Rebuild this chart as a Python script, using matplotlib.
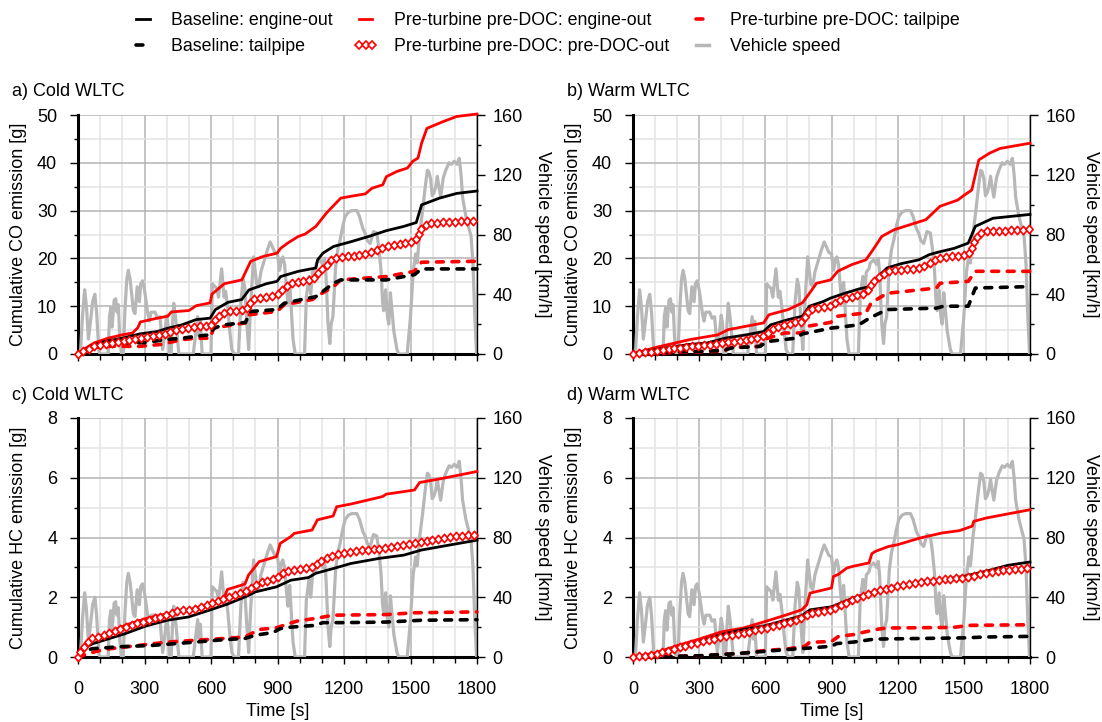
"""Cumulative CO / HC emissions over the WLTC with vehicle speed overlay (4 panels)."""
import matplotlib
matplotlib.use("Agg")
import matplotlib.pyplot as plt
import numpy as np
from matplotlib.lines import Line2D
from matplotlib.path import Path
from matplotlib.patheffects import AbstractPathEffect
from matplotlib.ticker import MultipleLocator
from matplotlib.transforms import Affine2D, IdentityTransform

plt.rcParams["font.family"] = ["Liberation Sans", "DejaVu Sans"]
plt.rcParams["font.size"] = 13

# --- vehicle speed (WLTC) --------------------------------------------------
SPEED_T = [0, 11, 20, 30, 38, 47, 55, 66, 76, 84, 94, 100, 136, 142, 148, 154, 163, 170,
           176, 182, 188, 196, 204, 212, 220, 227, 235, 250, 257, 267, 272, 277, 283, 291,
           300, 315, 322, 330, 348, 358, 370, 382, 392, 400, 406, 412, 420, 426, 432, 440,
           455, 520, 528, 534, 540, 546, 552, 560, 600, 606, 618, 626, 634, 648, 659, 666,
           676, 685, 694, 705, 724, 735, 745, 752, 762, 770, 778, 792, 806, 815, 825, 845,
           855, 867, 876, 888, 900, 909, 918, 924, 932, 940, 947, 955, 962, 970, 980, 1022,
           1030, 1042, 1050, 1058, 1070, 1076, 1091, 1105, 1112, 1118, 1128, 1136, 1142,
           1150, 1162, 1172, 1182, 1195, 1205, 1220, 1235, 1258, 1270, 1285, 1295, 1305,
           1318, 1333, 1348, 1358, 1367, 1374, 1379, 1388, 1396, 1402, 1409, 1416, 1425,
           1439, 1447, 1485, 1500, 1512, 1523, 1530, 1541, 1553, 1565, 1576, 1583, 1591,
           1598, 1606, 1614, 1621, 1628, 1636, 1648, 1659, 1674, 1685, 1697, 1710, 1720,
           1728, 1735, 1750, 1762, 1773, 1782, 1790, 1798, 1800]
SPEED_V = [0, 0, 25, 43, 32, 10, 20, 35, 40, 28, 2, 0, 0, 25, 31, 18, 36, 37,
           28, 33, 12, 0, 0, 30, 50, 56, 50, 29, 27, 45, 40, 35, 47, 49,
           43, 27, 22, 28, 28, 24, 25, 3, 15, 26, 20, 0, 0, 20, 34, 25,
           0, 0, 10, 18, 25, 12, 22, 0, 0, 47, 45, 44, 38, 57, 38, 42,
           30, 15, 3, 0, 0, 35, 50, 45, 20, 3, 30, 65, 47, 45, 55, 65,
           70, 75, 72, 68, 67, 56, 63, 65, 60, 45, 34, 48, 30, 10, 0, 0,
           38, 52, 40, 55, 57, 61, 63, 60, 64, 55, 20, 7, 20,
           25, 58, 70, 76, 86, 92, 95, 96, 96, 92, 84, 81, 76,
           74, 82, 81, 70, 56, 35, 29, 43, 25, 20, 41, 30, 15,
           3, 0, 0, 25, 55, 67, 61, 80, 94, 110, 123, 122, 117,
           106, 108, 112, 119, 112, 105, 118, 123, 128, 127, 129, 127, 131,
           120, 105, 92, 85, 79, 60, 25, 0, 0]

# --- a) Cold WLTC, cumulative CO [g] ---------------------------------------
A_BL_EO_T = [0, 56, 119, 199, 278, 358, 405, 469, 533, 596, 620, 676, 739, 771, 850, 898,
             914, 994, 1073, 1081, 1105, 1153, 1232, 1312, 1391, 1470, 1526, 1550, 1630,
             1709, 1800]
A_BL_EO = [0, 1.6, 2.6, 3.3, 4.2, 4.7, 5.4, 6.1, 7.2, 7.5, 9.3, 10.8, 11.4, 13.4, 14.7, 15.2,
           16.2, 17.3, 18.0, 19.7, 21.1, 22.5, 23.5, 24.6, 25.8, 26.7, 27.5, 31.2, 32.6,
           33.6, 34.1]
A_BL_TP_T = [0, 56, 199, 310, 389, 469, 549, 596, 612, 660, 755, 779, 898, 930, 1010, 1073,
             1153, 1185, 1391, 1470, 1518, 1550, 1800]
A_BL_TP = [0, 1.3, 2.3, 2.4, 3.0, 3.3, 3.8, 4.0, 5.4, 6.1, 6.6, 8.9, 9.3, 10.6, 11.4, 12.0,
           14.8, 15.5, 15.5, 16.2, 16.6, 17.8, 17.8]
A_PT_EO_T = [0, 24, 72, 135, 199, 246, 270, 281, 358, 405, 421, 501, 533, 596, 604, 660,
             739, 779, 835, 898, 914, 946, 994, 1025, 1073, 1121, 1185, 1232, 1296, 1327,
             1375, 1391, 1439, 1486, 1510, 1534, 1550, 1574, 1646, 1709, 1800]
A_PT_EO = [0, 0.9, 2.3, 3.3, 4.0, 4.4, 5.5, 6.7, 7.5, 7.9, 8.8, 9.1, 10.1, 10.7, 12.5, 14.7,
           15.5, 19.4, 20.4, 21.1, 22.1, 23.2, 24.6, 25.1, 26.7, 29.5, 32.6, 33.0, 33.5, 34.7,
           35.4, 37.1, 38.2, 38.9, 40.3, 41.0, 44.1, 47.2, 48.6, 49.7, 50.2]
A_PT_PRE_T = [0, 72, 119, 199, 278, 358, 437, 533, 596, 628, 676, 755, 787, 898, 930, 962,
              1057, 1089, 1153, 1232, 1312, 1359, 1407, 1518, 1550, 1582, 1800]
A_PT_PRE = [0, 1.6, 2.0, 2.6, 3.3, 3.8, 4.9, 5.8, 5.9, 7.7, 8.9, 9.3, 11.4, 12.4, 13.8, 14.8,
            15.5, 17.3, 20.1, 20.5, 21.1, 21.9, 22.8, 23.5, 26.3, 27.4, 27.9]
A_PT_TP_T = [0, 56, 119, 278, 374, 469, 533, 596, 612, 660, 755, 771, 898, 930, 1057, 1089,
             1153, 1185, 1391, 1518, 1550, 1800]
A_PT_TP = [0, 1.3, 1.6, 1.6, 2.0, 3.0, 3.3, 3.3, 5.4, 5.8, 6.5, 8.2, 8.9, 10.3, 11.4, 12.4,
           14.1, 15.5, 16.2, 17.3, 19.2, 19.4]

# --- b) Warm WLTC, cumulative CO [g] ---------------------------------------
B_BL_EO_T = [0, 96, 256, 336, 416, 512, 592, 624, 704, 768, 800, 864, 896, 960, 1024, 1072,
             1104, 1152, 1216, 1296, 1344, 1392, 1456, 1520, 1552, 1632, 1800]
B_BL_EO = [0, 0.9, 2.0, 2.3, 3.3, 4.0, 4.7, 6.1, 7.2, 7.9, 10.0, 11.0, 11.7, 12.7, 13.6, 14.1,
           15.9, 18.0, 18.9, 19.7, 20.8, 21.4, 22.1, 23.2, 26.7, 28.4, 29.2]
B_BL_TP_T = [0, 96, 336, 416, 448, 576, 608, 736, 768, 896, 1024, 1072, 1152, 1376, 1408,
             1520, 1552, 1800]
B_BL_TP = [0, 0.35, 0.6, 0.8, 1.3, 1.6, 2.6, 3.3, 4.2, 5.4, 6.1, 7.5, 9.3, 9.6, 10.0, 10.0,
           13.8, 14.1]
B_PT_EO_T = [0, 96, 256, 384, 432, 512, 592, 616, 704, 768, 800, 832, 896, 928, 992, 1056,
             1088, 1128, 1184, 1280, 1328, 1360, 1392, 1472, 1504, 1536, 1568, 1616, 1664,
             1800]
B_PT_EO = [0, 1.3, 3.0, 4.0, 5.1, 5.8, 6.5, 8.2, 9.3, 10.7, 12.7, 14.8, 15.5, 17.3, 18.7,
           19.7, 21.8, 24.6, 26.0, 27.4, 28.1, 29.5, 30.9, 32.2, 33.3, 34.3, 40.6, 42.0, 43.0,
           44.1]
B_PT_PRE_T = [0, 96, 256, 384, 512, 592, 640, 720, 768, 800, 896, 944, 1056, 1088, 1152,
              1296, 1344, 1392, 1520, 1552, 1584, 1800]
B_PT_PRE = [0, 0.6, 1.6, 2.1, 3.0, 3.7, 5.4, 6.5, 6.8, 9.3, 10.0, 11.4, 12.7, 15.2, 17.3,
            18.0, 19.0, 20.1, 20.8, 23.9, 25.6, 26.1]
B_PT_TP_T = [0, 96, 416, 432, 576, 592, 688, 768, 790, 896, 928, 1056, 1080, 1152, 1376,
             1392, 1520, 1552, 1800]
B_PT_TP = [0, 0.2, 0.6, 1.3, 1.6, 3.0, 4.4, 4.4, 5.8, 6.6, 7.9, 8.6, 10.7, 12.7, 13.8, 14.8,
           15.2, 17.3, 17.3]

# --- c) Cold WLTC, cumulative HC [g] ---------------------------------------
C_BL_EO_T = [0, 21, 68, 116, 212, 307, 403, 498, 594, 674, 753, 801, 896, 960, 1040, 1072,
             1151, 1231, 1358, 1470, 1549, 1677, 1800]
C_BL_EO = [0, 0.28, 0.45, 0.56, 0.78, 1.04, 1.23, 1.34, 1.57, 1.77, 2.01, 2.18, 2.35, 2.57,
           2.66, 2.8, 2.96, 3.13, 3.3, 3.41, 3.58, 3.75, 3.91]
C_BL_TP_T = [0, 21, 68, 180, 339, 530, 658, 753, 801, 880, 912, 960, 1072, 1104, 1199, 1390,
             1549, 1800]
C_BL_TP = [0, 0.2, 0.28, 0.34, 0.39, 0.5, 0.58, 0.62, 0.73, 0.82, 0.95, 1.0, 1.06, 1.15,
           1.15, 1.17, 1.23, 1.25]
C_PT_EO_T = [0, 21, 53, 84, 148, 212, 307, 403, 498, 594, 658, 674, 753, 769, 817, 896, 912,
             960, 976, 1056, 1080, 1151, 1167, 1231, 1374, 1390, 1518, 1541, 1645, 1800]
C_PT_EO = [0, 0.34, 0.5, 0.67, 0.84, 1.06, 1.29, 1.45, 1.57, 1.77, 1.96, 2.26, 2.44, 2.74,
           3.19, 3.36, 3.8, 4.03, 4.14, 4.25, 4.59, 4.72, 5.03, 5.12, 5.37, 5.45, 5.59, 5.84,
           5.98, 6.21]
C_PT_PRE_T = [0, 13, 37, 68, 116, 180, 275, 371, 435, 530, 594, 658, 753, 833, 896, 928,
              992, 1056, 1088, 1151, 1231, 1310, 1390, 1470, 1549, 1677, 1800]
C_PT_PRE = [0, 0.22, 0.45, 0.65, 0.73, 0.92, 1.15, 1.34, 1.51, 1.62, 1.77, 1.96, 2.18, 2.52,
            2.63, 2.85, 2.93, 3.0, 3.19, 3.41, 3.52, 3.6, 3.64, 3.75, 3.86, 4.03, 4.1]
C_PT_TP_T = [0, 53, 116, 275, 403, 530, 658, 753, 817, 896, 928, 992, 1072, 1151, 1390,
             1518, 1800]
C_PT_TP = [0, 0.13, 0.25, 0.39, 0.5, 0.56, 0.62, 0.67, 0.92, 0.98, 1.06, 1.21, 1.29, 1.4,
           1.42, 1.48, 1.51]

# --- d) Warm WLTC, cumulative HC [g] ---------------------------------------
D_BL_EO_T = [0, 100, 200, 300, 400, 500, 600, 700, 765, 803, 900, 1000, 1100, 1200, 1300,
             1400, 1500, 1600, 1700, 1800]
D_BL_EO = [0, 0.08, 0.27, 0.52, 0.75, 0.92, 1.05, 1.25, 1.38, 1.58, 1.68, 1.98, 2.2, 2.37,
           2.5, 2.59, 2.7, 2.87, 3.07, 3.18]
D_BL_TP_T = [0, 100, 300, 400, 500, 600, 700, 800, 900, 924, 1000, 1076, 1100, 1300, 1500,
             1600, 1800]
D_BL_TP = [0, 0.01, 0.04, 0.08, 0.13, 0.19, 0.25, 0.3, 0.36, 0.45, 0.5, 0.58, 0.6, 0.62,
           0.64, 0.67, 0.69]
D_PT_EO_T = [0, 100, 200, 300, 400, 500, 600, 700, 765, 788, 803, 900, 909, 930, 970, 1000,
             1070, 1083, 1100, 1159, 1200, 1300, 1400, 1480, 1538, 1545, 1600, 1700, 1800]
D_PT_EO = [0, 0.13, 0.38, 0.6, 0.84, 0.97, 1.19, 1.42, 1.58, 1.75, 2.14, 2.31, 2.7, 2.76,
           2.98, 3.04, 3.15, 3.46, 3.54, 3.7, 3.76, 3.98, 4.15, 4.23, 4.38, 4.54, 4.65, 4.79,
           4.93]
D_PT_PRE_T = [0, 100, 200, 300, 400, 500, 600, 700, 765, 803, 900, 1000, 1100, 1200, 1300,
              1400, 1500, 1600, 1700, 1800]
D_PT_PRE = [0, 0.08, 0.3, 0.49, 0.67, 0.8, 0.97, 1.16, 1.31, 1.47, 1.6, 1.92, 2.2, 2.37,
            2.5, 2.59, 2.65, 2.81, 2.92, 2.98]
D_PT_TP_T = [0, 300, 500, 600, 700, 780, 800, 900, 932, 1000, 1100, 1150, 1450, 1530, 1800]
D_PT_TP = [0, 0.04, 0.13, 0.22, 0.27, 0.36, 0.49, 0.52, 0.69, 0.75, 0.92, 0.97, 0.99, 1.06,
           1.08]

RED = "#ff0000"
SPEED_COLOR = "#b7b7b7"
LABELS = {
    "bl_eo": "Baseline: engine-out",
    "bl_tp": "Baseline: tailpipe",
    "pt_eo": "Pre-turbine pre-DOC: engine-out",
    "pt_pre": "Pre-turbine pre-DOC: pre-DOC-out",
    "pt_tp": "Pre-turbine pre-DOC: tailpipe",
}
DASH = dict(lw=2.6, dashes=(1.9, 2.4), dash_capstyle="round")
STYLES = {
    "bl_eo": dict(color="black", lw=2.0),
    "bl_tp": dict(color="black", **DASH),
    "pt_eo": dict(color=RED, lw=2.0),
    "pt_pre": dict(color=RED, ls="none", marker="D", ms=4.4, mfc="white", mec=RED, mew=1.2),
    "pt_tp": dict(color=RED, **DASH),
}
DRAW_ORDER = ["pt_eo", "bl_eo", "pt_tp", "bl_tp", "pt_pre"]

W, H = 1102, 722


class DiamondChain(AbstractPathEffect):
    """Stamp open diamonds at a fixed on-screen spacing along a line (like the
    spreadsheet 'marker every point' look of the original chart)."""

    def __init__(self, spacing=4.3, width=5.2, height=6.0, color=RED, lw=1.2):
        super().__init__()
        self.spacing, self.width, self.height = spacing, width, height
        self.color, self.lw = color, lw

    def draw_path(self, renderer, gc, tpath, affine, rgbFace=None):
        xy = affine.transform(tpath.vertices)
        dist = np.concatenate([[0], np.cumsum(np.hypot(*np.diff(xy, axis=0).T))])
        p2px = renderer.points_to_pixels(1.0)
        at = np.arange(0, dist[-1] + 1e-9, self.spacing * p2px)
        pts = np.column_stack([np.interp(at, dist, xy[:, 0]), np.interp(at, dist, xy[:, 1])])
        k = p2px / np.sqrt(2)
        mtrans = (Affine2D().translate(-0.5, -0.5).rotate_deg(45)
                  .scale(self.width * k, self.height * k))
        gc0 = renderer.new_gc()
        gc0.copy_properties(gc)
        gc0.set_dashes(0, None)
        gc0.set_foreground(self.color)
        gc0.set_linewidth(self.lw)
        renderer.draw_markers(gc0, Path.unit_rectangle(), mtrans, Path(pts),
                              IdentityTransform(), (1, 1, 1, 1))
        gc0.restore()


def rect(x0, x1, y0, y1):
    return [x0 / W, 1 - y1 / H, (x1 - x0) / W, (y1 - y0) / H]


def draw_panel(fig, box, title, ylabel, ymax, ymaj, ymin, series, bottom):
    x0, x1, y0, y1 = box
    pos = rect(x0, x1, y0, y1)

    ax = fig.add_axes(pos)
    ax.set_xlim(0, 1800)
    ax.set_ylim(0, ymax)
    ax.xaxis.set_major_locator(MultipleLocator(300))
    ax.xaxis.set_minor_locator(MultipleLocator(100))
    ax.yaxis.set_major_locator(MultipleLocator(ymaj))
    ax.yaxis.set_minor_locator(MultipleLocator(ymin))
    ax.grid(which="major", color="#b4b4b4", lw=1.1)
    ax.grid(which="minor", color="#e3e3e3", lw=1.1)
    for s in ("top", "right"):
        ax.spines[s].set_visible(False)
    for s in ("left", "bottom"):
        ax.spines[s].set_linewidth(2.2)
    ax.tick_params(which="both", direction="out", width=1, colors="black")
    ax.tick_params(axis="y", which="major", length=6, pad=9)
    ax.tick_params(axis="y", which="minor", length=3)
    ax.tick_params(axis="x", which="major", length=5, pad=12)
    ax.tick_params(axis="x", which="minor", length=4)
    ax.set_ylabel(ylabel)
    ax.yaxis.set_label_coords(-0.128, 0.5)
    if bottom:
        ax.set_xlabel("Time [s]", labelpad=4)
    else:
        ax.tick_params(axis="x", labelbottom=False)

    spd = ax.twinx()
    spd.set_ylim(0, 160)
    spd.yaxis.set_major_locator(MultipleLocator(40))
    spd.yaxis.set_minor_locator(MultipleLocator(20))
    spd.plot(SPEED_T, SPEED_V, color=SPEED_COLOR, lw=2.3, solid_joinstyle="round")
    for s in ("top", "left", "bottom"):
        spd.spines[s].set_visible(False)
    spd.spines["right"].set_linewidth(1)
    spd.tick_params(which="both", direction="out", width=1)
    spd.tick_params(which="major", length=6, pad=5)
    spd.tick_params(which="minor", length=3)

    top = fig.add_axes(pos)
    top.patch.set_visible(False)
    top.set_axis_off()
    for key in DRAW_ORDER:
        t, v = series[key]
        if key == "pt_pre":
            top.plot(t, v, color=RED, lw=1, clip_on=False, path_effects=[DiamondChain()])
        else:
            top.plot(t, v, clip_on=False, **STYLES[key])
    top.set_xlim(0, 1800)
    top.set_ylim(0, ymax)

    fig.text((x0 - 66) / W, 1 - (y0 - 23) / H, title, ha="left", va="center")
    xr = min(x1 + 66, W - 11)
    fig.text(xr / W, 1 - ((y0 + y1) / 2) / H, "Vehicle speed [km/h]",
             rotation=270, ha="center", va="center")


PANELS = [
    ((78, 477, 115, 354), "a) Cold WLTC", "Cumulative CO emission [g]", 50, 10, 5,
     dict(bl_eo=(A_BL_EO_T, A_BL_EO), bl_tp=(A_BL_TP_T, A_BL_TP), pt_eo=(A_PT_EO_T, A_PT_EO),
          pt_pre=(A_PT_PRE_T, A_PT_PRE), pt_tp=(A_PT_TP_T, A_PT_TP)), False),
    ((633, 1030, 115, 354), "b) Warm WLTC", "Cumulative CO emission [g]", 50, 10, 5,
     dict(bl_eo=(B_BL_EO_T, B_BL_EO), bl_tp=(B_BL_TP_T, B_BL_TP), pt_eo=(B_PT_EO_T, B_PT_EO),
          pt_pre=(B_PT_PRE_T, B_PT_PRE), pt_tp=(B_PT_TP_T, B_PT_TP)), False),
    ((78, 477, 418, 657), "c) Cold WLTC", "Cumulative HC emission [g]", 8, 2, 1,
     dict(bl_eo=(C_BL_EO_T, C_BL_EO), bl_tp=(C_BL_TP_T, C_BL_TP), pt_eo=(C_PT_EO_T, C_PT_EO),
          pt_pre=(C_PT_PRE_T, C_PT_PRE), pt_tp=(C_PT_TP_T, C_PT_TP)), True),
    ((633, 1030, 418, 657), "d) Warm WLTC", "Cumulative HC emission [g]", 8, 2, 1,
     dict(bl_eo=(D_BL_EO_T, D_BL_EO), bl_tp=(D_BL_TP_T, D_BL_TP), pt_eo=(D_PT_EO_T, D_PT_EO),
          pt_pre=(D_PT_PRE_T, D_PT_PRE), pt_tp=(D_PT_TP_T, D_PT_TP)), True),
]


def main():
    fig = plt.figure(figsize=(W / 100, H / 100), dpi=100)
    for spec in PANELS:
        draw_panel(fig, *spec)

    # legend fills column-wise: keep the reference's row order
    order = ["bl_eo", "bl_tp", "pt_eo", "pt_pre", "pt_tp"]
    handles = [Line2D([], [], **STYLES[k]) for k in order]
    labels = [LABELS[k] for k in order]
    handles.append(Line2D([], [], color=SPEED_COLOR, lw=2.5))
    labels.append("Vehicle speed")
    fig.legend(handles, labels, loc="upper center", bbox_to_anchor=(0.495, 1.005), ncol=3,
               frameon=False, fontsize=12.8, handlelength=1.35, handletextpad=0.9,
               columnspacing=1.2, labelspacing=0.5, numpoints=3)

    fig.savefig("out.png", dpi=100)
    plt.close(fig)


if __name__ == "__main__":
    main()
